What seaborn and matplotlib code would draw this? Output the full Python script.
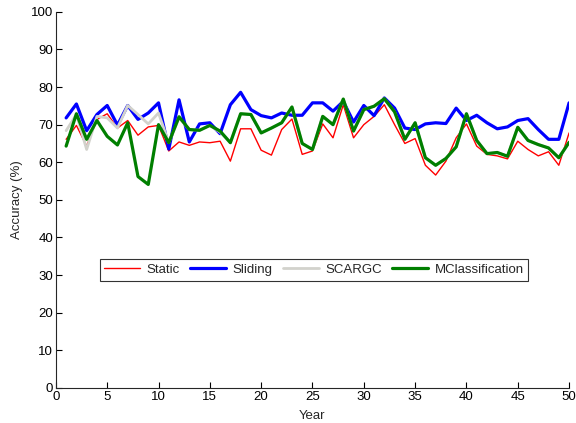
import numpy as np
import pandas as pd
import matplotlib
matplotlib.use("Agg")
import matplotlib.pyplot as plt
import seaborn as sns

years = list(range(1, 51))
static = [66.1, 69.8, 64.3, 71.4, 72.9, 69.1, 71.1, 67.2, 69.4, 69.8,
          63.0, 65.4, 64.5, 65.4, 65.2, 65.6, 60.3, 68.9, 68.9, 63.2,
          61.9, 68.7, 71.5, 62.1, 63.0, 70.2, 66.5, 75.3, 66.5, 70.0,
          72.2, 75.3, 70.0, 65.0, 66.3, 59.2, 56.6, 60.3, 66.5, 70.2,
          64.3, 62.1, 61.7, 60.9, 65.6, 63.4, 61.7, 62.8, 59.2, 67.8]
sliding = [71.8, 75.5, 68.4, 72.7, 75.1, 69.9, 75.1, 71.4, 73.1, 75.8,
           63.5, 76.6, 65.4, 70.2, 70.5, 67.6, 75.3, 78.6, 74.0, 72.4,
           71.8, 73.1, 72.5, 72.5, 75.8, 75.8, 73.6, 76.2, 70.7, 75.1,
           72.4, 77.1, 74.4, 69.1, 68.7, 70.2, 70.5, 70.3, 74.4, 71.1,
           72.5, 70.5, 68.9, 69.4, 71.1, 71.6, 68.7, 66.1, 66.1, 75.8]
scargc = [68.4, 72.7, 63.4, 72.2, 71.8, 69.1, 75.1, 72.7, 70.2, 73.1,
          65.2, 71.8, 68.7, 68.5, 69.8, 68.0, 65.2, 72.9, 72.7, 67.8,
          69.1, 70.5, 74.7, 65.0, 63.4, 72.2, 70.0, 76.8, 68.3, 74.0,
          74.9, 76.9, 73.4, 66.1, 70.5, 61.2, 59.2, 61.0, 64.1, 72.9,
          65.8, 62.3, 62.6, 61.6, 69.3, 65.8, 64.7, 63.8, 61.2, 65.3]
mclass = [64.3, 72.9, 66.1, 71.1, 66.9, 64.6, 70.5, 56.2, 54.1, 70.0,
          65.2, 72.1, 68.7, 68.5, 69.8, 68.3, 65.2, 72.9, 72.7, 67.8,
          69.1, 70.5, 74.7, 65.0, 63.4, 72.2, 70.0, 76.8, 68.3, 74.0,
          74.9, 76.9, 73.4, 66.1, 70.5, 61.2, 59.2, 61.0, 64.1, 72.9,
          65.8, 62.3, 62.6, 61.6, 69.3, 65.8, 64.7, 63.8, 61.2, 65.3]

series_names = ["Static", "Sliding", "SCARGC", "MClassification"]
colors = ["#ff0000", "#0000ff", "#d2d2cc", "#007f00"]
widths = [1.0, 2.3, 2.0, 2.3]

sns.set_style("ticks")
plt.rcParams['font.family'] = ['Liberation Sans', 'DejaVu Sans']

fig = plt.figure(figsize=(5.76, 4.23), dpi=100)
ax = fig.add_axes([0.097, 0.083, 0.891, 0.889])

for i, vals in enumerate([static, sliding, scargc, mclass]):
    df = pd.DataFrame({"Year": years, "Acc": vals})
    sns.lineplot(data=df, x="Year", y="Acc", ax=ax, color=colors[i],
                 linewidth=widths[i], label=series_names[i])

ax.set_xlim(0, 50)
ax.set_ylim(0, 100)
ax.set_xticks(range(0, 51, 5))
ax.set_yticks(range(0, 101, 10))
ax.tick_params(direction="in", length=4, width=0.8, labelsize=9.5,
               colors="black", pad=2)
for s in ["top", "right"]:
    ax.spines[s].set_visible(False)
for s in ["left", "bottom"]:
    ax.spines[s].set_linewidth(0.8)
ax.set_xlabel("Year", fontsize=9.5, labelpad=5)
ax.set_ylabel("Accuracy (%)", fontsize=9.5, labelpad=6)

leg = ax.legend(loc="center", bbox_to_anchor=(0.503, 0.314), ncol=4,
                frameon=True, fancybox=False, edgecolor="black",
                fontsize=9.5, handlelength=2.7, columnspacing=0.8,
                handletextpad=0.5, borderpad=0.35, borderaxespad=0)
leg.get_frame().set_linewidth(0.8)

fig.savefig("out.png", dpi=100)
